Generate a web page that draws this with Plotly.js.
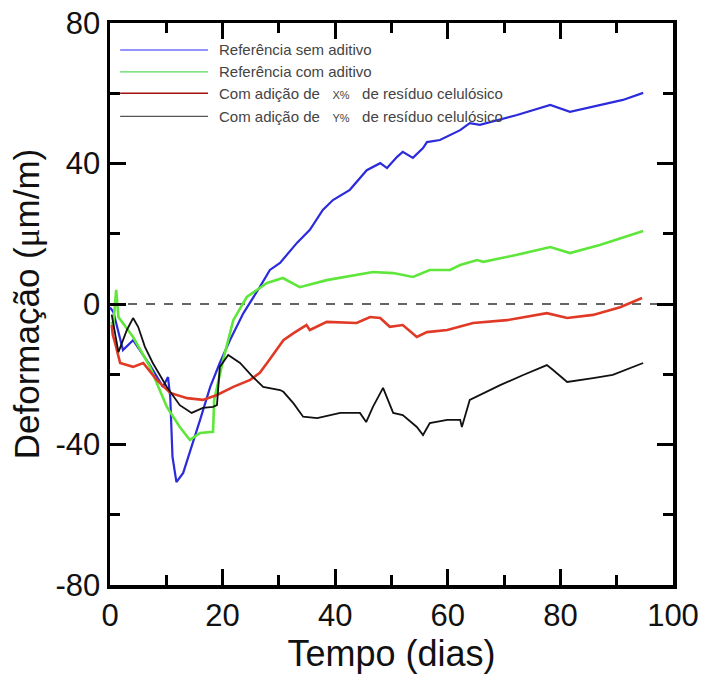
<!DOCTYPE html>
<html><head><meta charset="utf-8">
<script src="https://cdn.plot.ly/plotly-3.0.1.min.js"></script>
<style>body{margin:0;background:#fff}#chart{width:703px;height:675px}</style>
</head><body><div id="chart"></div>
<script>
// Series (days, µm/m)
const blueX = [0, 0.6, 2.3, 4.1, 7.1, 9.4, 10.3, 10.7, 11.1, 11.8, 13, 14.5, 16, 17.8, 19.5, 21.3, 23.7, 26.6, 28.4, 30.2, 33.2, 35.5, 37.8, 39.6, 42.6, 45.6, 48, 49.2, 51, 52, 53.8, 55.6, 56.3, 58.6, 62.2, 63.9, 65.7, 72.3, 78.2, 81.7, 87, 91.1, 94.7];
const blueY = [-1, -2.3, -13.1, -10.3, -17.4, -23.6, -20.8, -26.5, -43.5, -50.7, -48.1, -40.7, -33, -23.6, -16.8, -10.3, -2.6, 4.8, 9.7, 11.7, 17.4, 21.1, 26.8, 29.6, 32.5, 38.1, 40.1, 38.7, 41.9, 43.3, 41.6, 44.4, 46.1, 46.7, 49.5, 51.5, 51, 53.8, 56.7, 54.7, 56.7, 58.1, 60.1];

const greenX = [0.3, 0.5, 1.1, 1.5, 4.1, 7.1, 10.1, 12.4, 14.2, 16, 18.3, 18.5, 20.1, 21.9, 24.3, 27.9, 30.7, 33.7, 38.5, 44.4, 46.7, 50.3, 53.8, 56.8, 60.4, 62.2, 65.2, 66.3, 72.3, 78.2, 81.7, 87, 94.7];
const greenY = [-5, -7.4, 4, -3.7, -9.4, -17.9, -29.3, -35, -38.7, -36.7, -36.4, -27.3, -15.9, -4.6, 2, 6, 7.4, 4.8, 6.8, 8.3, 9.1, 8.8, 7.7, 9.7, 9.7, 11.1, 12.5, 12, 14, 16.2, 14.5, 16.8, 20.8];

const redX = [0.3, 0.5, 0.9, 1.8, 4.1, 5.9, 8.3, 10.7, 13.7, 16.5, 19, 21.9, 24.9, 26.6, 27.9, 30.8, 32.6, 34.9, 35.5, 38.5, 43.8, 46.2, 48, 49.7, 52, 54.5, 56.3, 59.9, 64.5, 70.5, 77.6, 81.2, 85.8, 90.6, 94.5];
const redY = [-6, -8.8, -11.1, -16.8, -17.9, -16.8, -21.6, -25.3, -26.8, -27.3, -25.9, -23.6, -21.6, -19.6, -16.8, -10.3, -8.3, -6, -7.4, -5.1, -5.4, -3.7, -4, -6.5, -6, -9.4, -8, -7.4, -5.4, -4.6, -2.6, -4, -3.1, -0.9, 1.7];

const blackX = [0.3, 0.9, 1.5, 3, 4.1, 5, 6.2, 7.6, 10.1, 12.4, 14.5, 16.5, 18.3, 19, 19.5, 21, 23.1, 25.4, 27.2, 30.2, 30.8, 32.6, 34.3, 36.8, 40.9, 44.4, 45.5, 46.7, 48.5, 50.3, 52, 54.5, 55.6, 56.8, 59.9, 62.2, 62.5, 63.9, 65.7, 69.3, 73.4, 77.6, 78.7, 81.2, 85.8, 89.3, 94.7];
const blackY = [-3, -8.3, -13.7, -7.4, -4, -6.5, -12.2, -16.8, -23.6, -28.8, -31, -29.6, -29.3, -28.8, -17.9, -14.5, -16.8, -20.8, -23.6, -24.5, -25, -28.3, -32.1, -32.5, -31, -31, -33.6, -29.3, -23.9, -31, -31.6, -35, -37.3, -33.9, -33, -33, -35, -27.3, -25.9, -23.1, -20.2, -17.4, -18.8, -22.2, -21.1, -20.2, -16.8];

const seriesNames = [
  'Referência sem aditivo',
  'Referência com aditivo',
  'Com adição de&nbsp;&nbsp;&nbsp;<span style="font-size:11px">X%</span>&nbsp;&nbsp;&nbsp;de resíduo celulósico',
  'Com adição de&nbsp;&nbsp;&nbsp;<span style="font-size:11px">Y%</span>&nbsp;&nbsp;&nbsp;de resíduo celulósico'
];
const lineColors = ['#2b2bdc', '#5ee63a', '#e03a26', '#111111'];
const legendColors = ['#7070ff', '#5ad85a', '#a01010', '#555555'];
const xTicks = [0, 20, 40, 60, 80, 100];
const yTicks = [-80, -40, 0, 40, 80];

const data = [
  {x: blueX, y: blueY, mode: 'lines', line: {color: lineColors[0], width: 2.2}, name: seriesNames[0]},
  {x: greenX, y: greenY, mode: 'lines', line: {color: lineColors[1], width: 2.6}, name: seriesNames[1]},
  {x: redX, y: redY, mode: 'lines', line: {color: lineColors[2], width: 2.6}, name: seriesNames[2]},
  {x: blackX, y: blackY, mode: 'lines', line: {color: lineColors[3], width: 1.8}, name: seriesNames[3]}
];

const shapes = [{type: 'line', xref: 'x', yref: 'y', x0: 0, x1: 100, y0: 0, y1: 0, layer: 'below', line: {color: '#333', width: 1.6, dash: 'dash'}}];
const annotations = [];
const legRows = [0.952, 0.913, 0.875, 0.834];
for (let i = 0; i < 4; i++) {
  const yy = legRows[i];
  shapes.push({type: 'line', xref: 'paper', yref: 'paper', x0: 0.018, x1: 0.174, y0: yy, y1: yy, line: {color: legendColors[i], width: 1.3}});
  annotations.push({xref: 'paper', yref: 'paper', x: 0.19, y: yy, xanchor: 'left', yanchor: 'middle', showarrow: false,
    text: seriesNames[i], font: {family: 'Liberation Sans, Arial, sans-serif', size: 15, color: '#444'}});
}

const axisCommon = {
  showgrid: false, zeroline: false, showline: true, linecolor: '#000', linewidth: 3.5,
  mirror: 'allticks', ticks: 'inside', ticklen: 16, tickwidth: 3, tickcolor: '#000',
  tickfont: {family: 'Liberation Sans, Arial, sans-serif', size: 31, color: '#111'}
};

const layout = {
  width: 703, height: 675,
  margin: {l: 110, r: 30, t: 23, b: 90},
  paper_bgcolor: '#fff', plot_bgcolor: '#fff',
  showlegend: false,
  xaxis: Object.assign({}, axisCommon, {
    range: [0, 100], tickvals: xTicks, ticktext: xTicks.map(String),
    minor: {dtick: 10, tick0: 0, ticks: 'inside', ticklen: 10, tickwidth: 3, tickcolor: '#000'},
    title: {text: 'Tempo (dias)', font: {family: 'Liberation Sans, Arial, sans-serif', size: 36, color: '#111'}, standoff: 4}
  }),
  yaxis: Object.assign({}, axisCommon, {
    range: [-80, 80], tickvals: yTicks, ticktext: yTicks.map(String),
    minor: {dtick: 20, tick0: 0, ticks: 'inside', ticklen: 10, tickwidth: 3, tickcolor: '#000'},
    title: {text: 'Deformação (<span style="font-family:Liberation Serif, serif">μ</span>m/m)', font: {family: 'Liberation Sans, Arial, sans-serif', size: 35, color: '#111'}, standoff: 6}
  }),
  shapes: shapes,
  annotations: annotations
};

Plotly.newPlot('chart', data, layout, {displayModeBar: false, staticPlot: true});
</script>
</body></html>
